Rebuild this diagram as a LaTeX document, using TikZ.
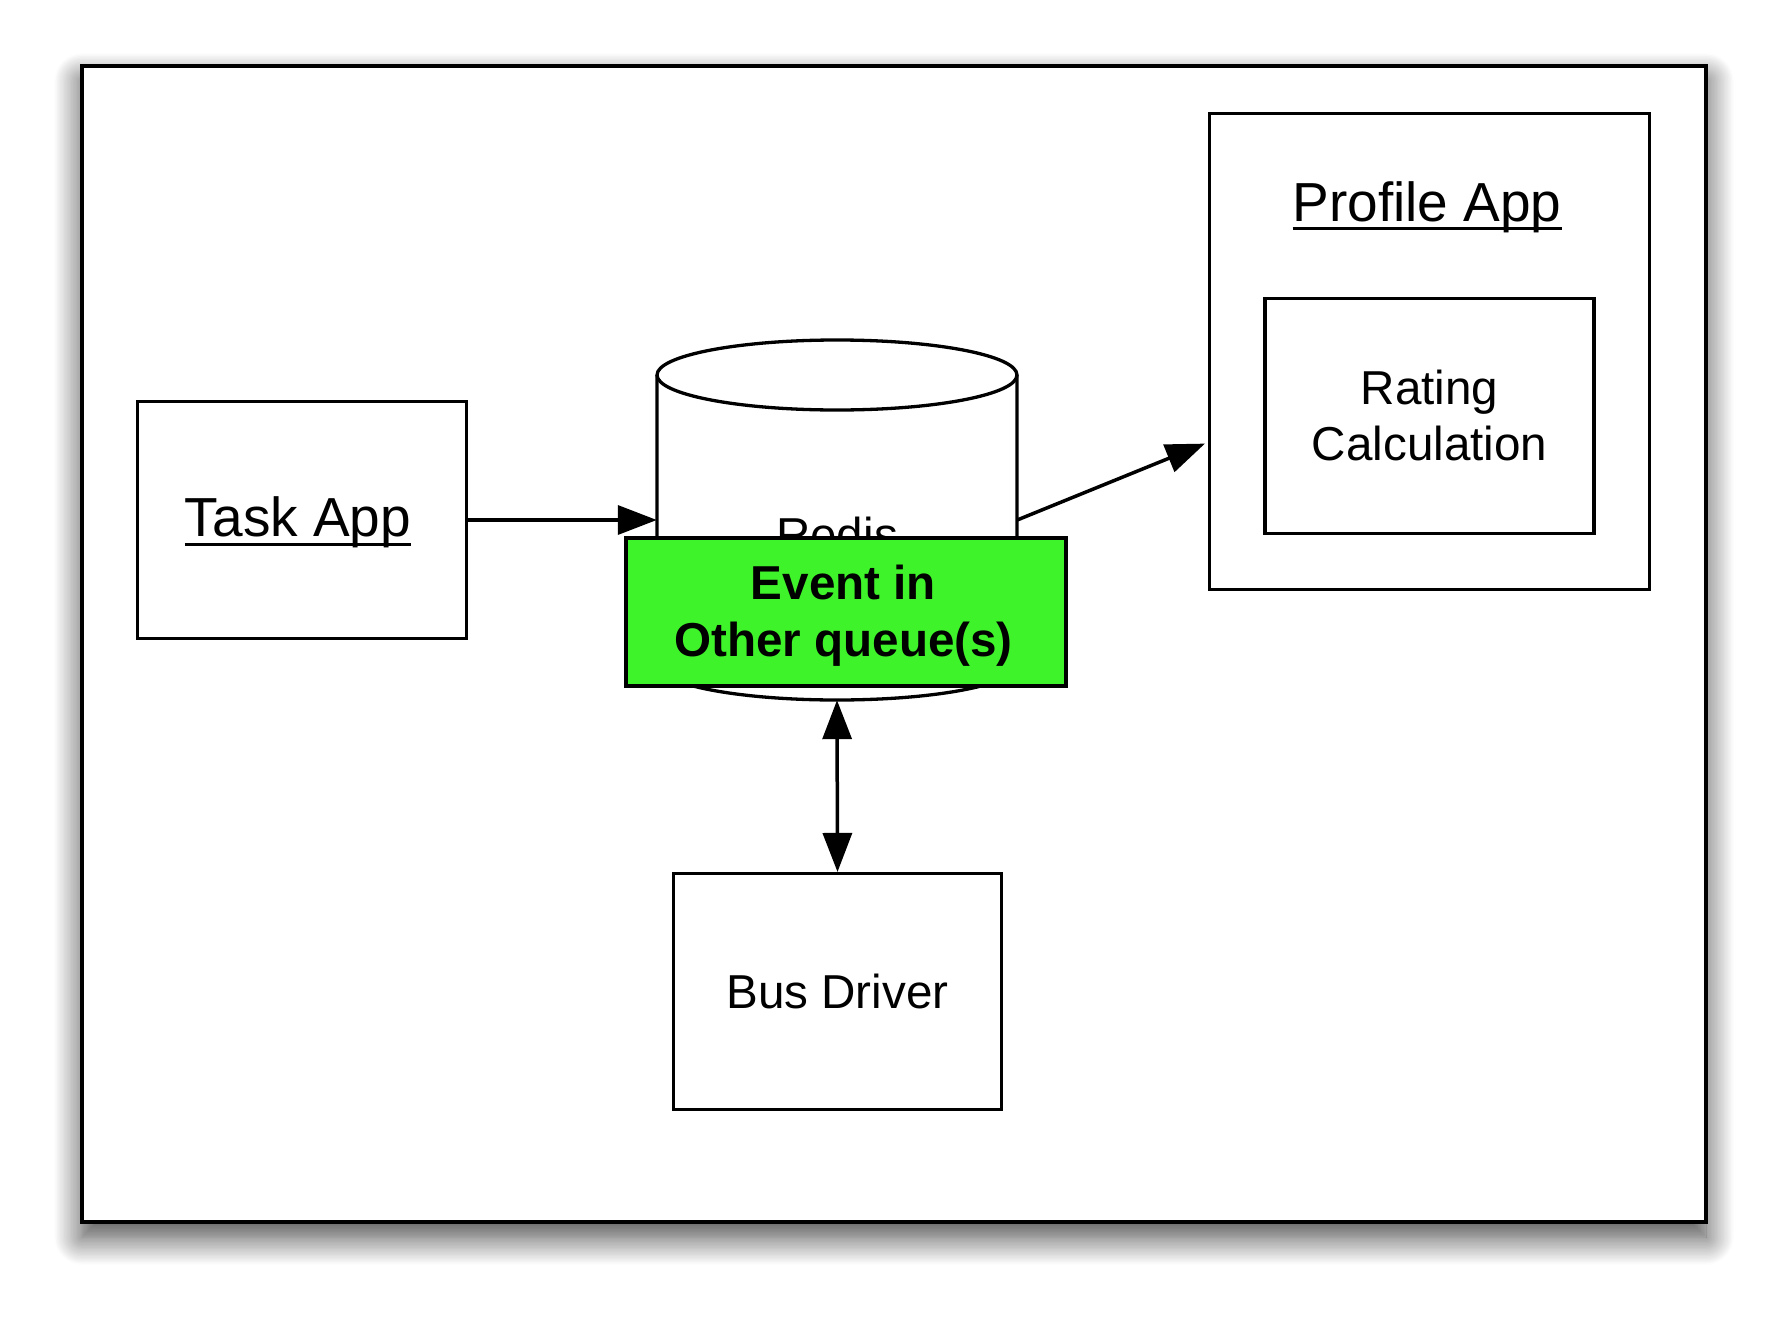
\documentclass[tikz,border=0pt]{standalone}
\usepackage{fontspec}
\setmainfont{Liberation Sans}
\usetikzlibrary{arrows.meta,shadows.blur,calc}
\definecolor{evgreen}{RGB}{63,243,43}
\newcommand\ulin[1]{\setbox0\hbox{#1}\rlap{\rule[-9.2pt]{\wd0}{3.3pt}}\box0}
\tikzset{
  box/.style={draw=black, line width=3.3pt, fill=white, rectangle, inner sep=0pt, align=center,
    font=\fontsize{47.6}{56}\selectfont},
  titletext/.style={inner sep=0pt, anchor=base, font=\fontsize{55}{62}\selectfont},
  conn/.style={line width=3.5pt, -{Triangle[length=39pt,width=29pt]}},
  bconn/.style={line width=3.5pt, {Triangle[length=39pt,width=29pt]}-{Triangle[length=39pt,width=29pt]}},
}
\begin{document}
\begin{tikzpicture}[x=1pt,y=-1pt]
\useasboundingbox (0,0) rectangle (1784,1316);
% outer frame with shadow
\node[draw=black, line width=4pt, fill=white, rectangle, inner sep=0pt,
  minimum width=1624pt, minimum height=1156pt,
  blur shadow={shadow xshift=0pt, shadow yshift=-15pt, shadow blur radius=28pt, shadow opacity=75, shadow blur steps=20}]
  (frame) at (894,644) {};
% cylinder (Redis)
\node[inner sep=0pt, minimum width=360pt, minimum height=360pt] (redis) at (837,520) {};
\draw[line width=3.3pt, fill=white]
  (657,375) -- (657,665)
  .. controls (657,684.3) and (737.6,700) .. (837,700)
  .. controls (936.4,700) and (1017,684.3) .. (1017,665)
  -- (1017,375);
\draw[line width=3.3pt, fill=white] (837,375) ellipse [x radius=180, y radius=35];
\node[inner sep=0pt, font=\fontsize{47.6}{56}\selectfont] (redislbl) at (837,534) {Redis};
% green event box
\node[box, fill=evgreen, minimum width=440pt, minimum height=148pt] (event) at (846,612) {};
\node[inner sep=0pt, align=center, font=\bfseries\fontsize{47.6}{57}\selectfont] (eventlbl) at (843.5,616) {Event in\\Other queue(s)};
% Task App
\node[box, minimum width=329pt, minimum height=237pt] (task) at (302,520) {};
\node[titletext] (tasklbl) at (298,536.7) {\ulin{Task App}};
% Profile App
\node[box, minimum width=440pt, minimum height=476pt] (profile) at (1429.6,351.6) {};
\node[titletext] (proflbl) at (1427,221) {\ulin{Profile App}};
\node[box, minimum width=329pt, minimum height=235pt] (rating) at (1429.6,415.8) {Rating\\Calculation};
% Bus Driver
\node[box, minimum width=328pt, minimum height=236pt] (bus) at (837.5,991.6) {Bus Driver};
% connectors
\draw[conn] (task.east) -- (redis.west);
\coordinate (pin) at ($(profile.west)+(-3,92)$);
\draw[conn] (redis.east) -- (pin);
\draw[bconn] (redis.south) -- (bus.north);
\end{tikzpicture}
\end{document}
